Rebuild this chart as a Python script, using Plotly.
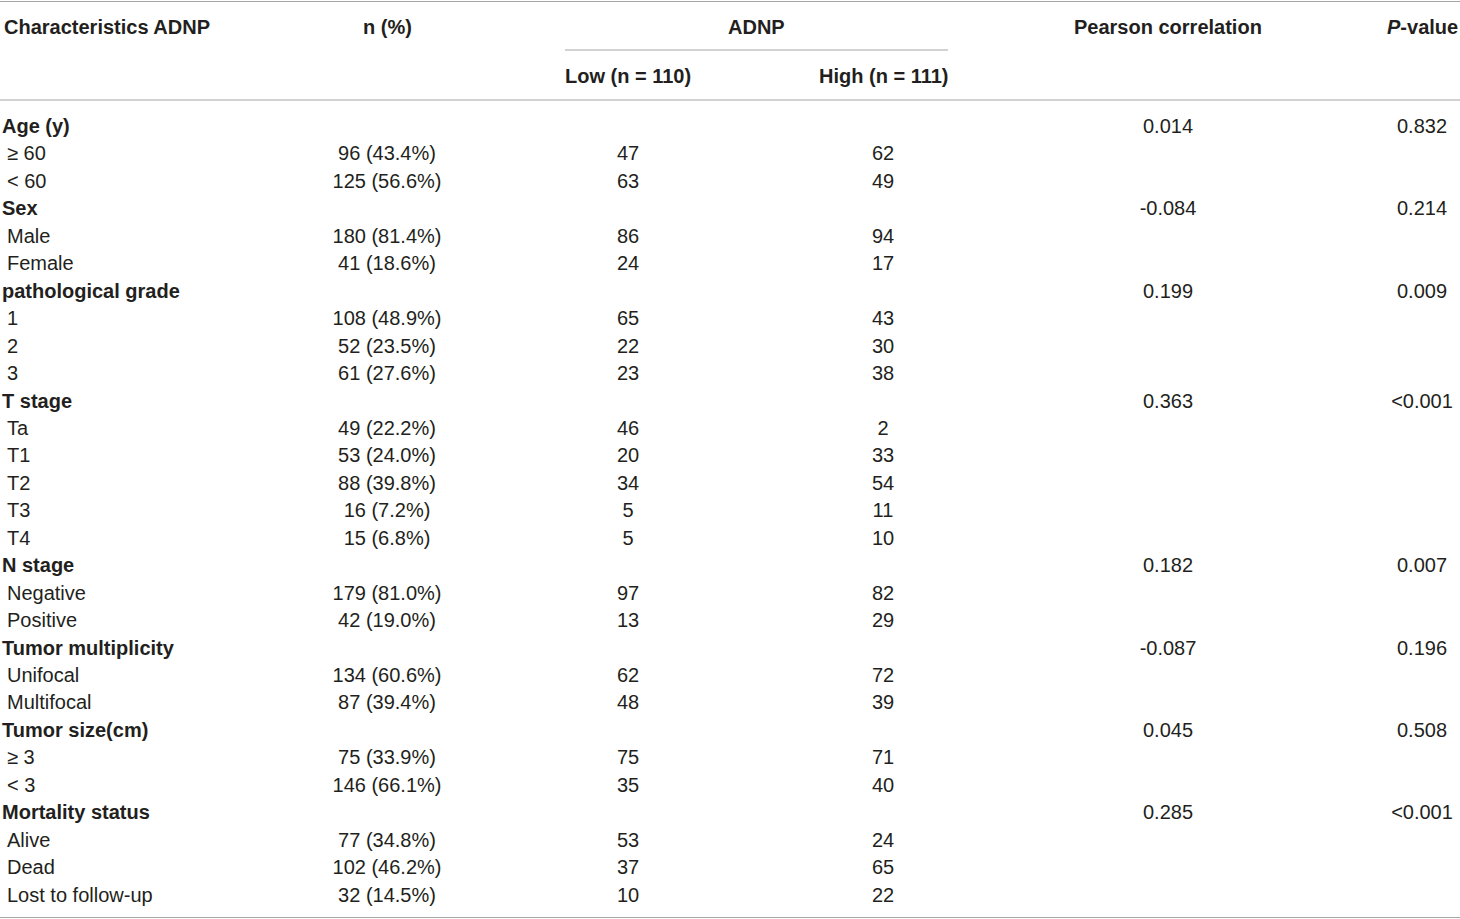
import plotly.graph_objects as go

# Table content, one entry per body row (group headings have no counts)
characteristics = [
    "Age (y)", "≥ 60", "< 60",
    "Sex", "Male", "Female",
    "pathological grade", "1", "2", "3",
    "T stage", "Ta", "T1", "T2", "T3", "T4",
    "N stage", "Negative", "Positive",
    "Tumor multiplicity", "Unifocal", "Multifocal",
    "Tumor size(cm)", "≥ 3", "< 3",
    "Mortality status", "Alive", "Dead", "Lost to follow-up",
]
is_group = [
    1, 0, 0,
    1, 0, 0,
    1, 0, 0, 0,
    1, 0, 0, 0, 0, 0,
    1, 0, 0,
    1, 0, 0,
    1, 0, 0,
    1, 0, 0, 0,
]
n_pct = [
    "", "96 (43.4%)", "125 (56.6%)",
    "", "180 (81.4%)", "41 (18.6%)",
    "", "108 (48.9%)", "52 (23.5%)", "61 (27.6%)",
    "", "49 (22.2%)", "53 (24.0%)", "88 (39.8%)", "16 (7.2%)", "15 (6.8%)",
    "", "179 (81.0%)", "42 (19.0%)",
    "", "134 (60.6%)", "87 (39.4%)",
    "", "75 (33.9%)", "146 (66.1%)",
    "", "77 (34.8%)", "102 (46.2%)", "32 (14.5%)",
]
adnp_low = [
    "", 47, 63,
    "", 86, 24,
    "", 65, 22, 23,
    "", 46, 20, 34, 5, 5,
    "", 97, 13,
    "", 62, 48,
    "", 75, 35,
    "", 53, 37, 10,
]
adnp_high = [
    "", 62, 49,
    "", 94, 17,
    "", 43, 30, 38,
    "", 2, 33, 54, 11, 10,
    "", 82, 29,
    "", 72, 39,
    "", 71, 40,
    "", 24, 65, 22,
]
pearson = [
    "0.014", "", "",
    "-0.084", "", "",
    "0.199", "", "", "",
    "0.363", "", "", "", "", "",
    "0.182", "", "",
    "-0.087", "", "",
    "0.045", "", "",
    "0.285", "", "", "",
]
p_value = [
    "0.832", "", "",
    "0.214", "", "",
    "0.009", "", "", "",
    "<0.001", "", "", "", "", "",
    "0.007", "", "",
    "0.196", "", "",
    "0.508", "", "",
    "<0.001", "", "", "",
]

# layout constants (pixels)
W, H = 1460, 919
FIRST_ROW = 128
ROW_H = 27.45
X_GROUP, X_ITEM = 2, 7
X_N, X_LOW, X_HIGH, X_R, X_P = 387, 628, 883, 1168, 1422
TXT = "#231f20"
RULE = "#a6a6a6"
FONT = "Liberation Sans"
FS = 20


def row_of(px):
    return (px - FIRST_ROW) / ROW_H


rows = list(range(len(characteristics)))
grp = [i for i in rows if is_group[i]]
itm = [i for i in rows if not is_group[i]]

fig = go.Figure()


def add_col(x, ys, texts, pos="middle center"):
    fig.add_trace(go.Scatter(
        x=[x] * len(ys), y=ys, text=texts, mode="text",
        textposition=pos, textfont=dict(family=FONT, size=FS, color=TXT),
        hoverinfo="skip", showlegend=False, cliponaxis=False,
    ))


add_col(X_GROUP, grp, [f"<b>{characteristics[i]}</b>" for i in grp], "middle right")
add_col(X_ITEM, itm, [characteristics[i] for i in itm], "middle right")
add_col(X_N, rows, n_pct)
add_col(X_LOW, rows, [str(v) for v in adnp_low])
add_col(X_HIGH, rows, [str(v) for v in adnp_high])
add_col(X_R, rows, pearson)
add_col(X_P, rows, p_value)

hdr_font = dict(family=FONT, size=FS, color=TXT)
headers = [
    (2, 27, "<b>Characteristics ADNP</b>", "left"),
    (X_N, 27, "<b>n (%)</b>", "center"),
    (756, 27, "<b>ADNP</b>", "center"),
    (X_R, 27, "<b>Pearson correlation</b>", "center"),
    (X_P, 27, "<b><i>P</i>-value</b>", "center"),
    (X_LOW, 76, "<b>Low (n = 110)</b>", "center"),
    (X_HIGH, 76, "<b>High (n = 111)</b>", "center"),
]
for x, py, txt, anchor in headers:
    fig.add_annotation(x=x, y=row_of(py), xref="x", yref="y", text=txt,
                       showarrow=False, xanchor=anchor, yanchor="middle",
                       font=hdr_font)

rules = [(0, W, 1.5), (565, 948, 50), (0, W, 100), (0, W, 917.5)]
for x0, x1, py in rules:
    fig.add_shape(type="line", xref="x", yref="y", x0=x0, x1=x1,
                  y0=row_of(py), y1=row_of(py),
                  line=dict(color=RULE, width=1.2))

fig.update_layout(
    width=W, height=H,
    margin=dict(l=0, r=0, t=0, b=0),
    paper_bgcolor="white", plot_bgcolor="white",
    xaxis=dict(range=[0, W], visible=False, fixedrange=True),
    yaxis=dict(range=[row_of(H), row_of(0)], visible=False, fixedrange=True),
)

# drop the browser's default 8px body margin so the figure fills the window
fig.write_html(
    "out.html",
    config={"displayModeBar": False},
    post_script="document.body.style.margin='0';"
                "document.body.style.overflow='hidden';",
)
